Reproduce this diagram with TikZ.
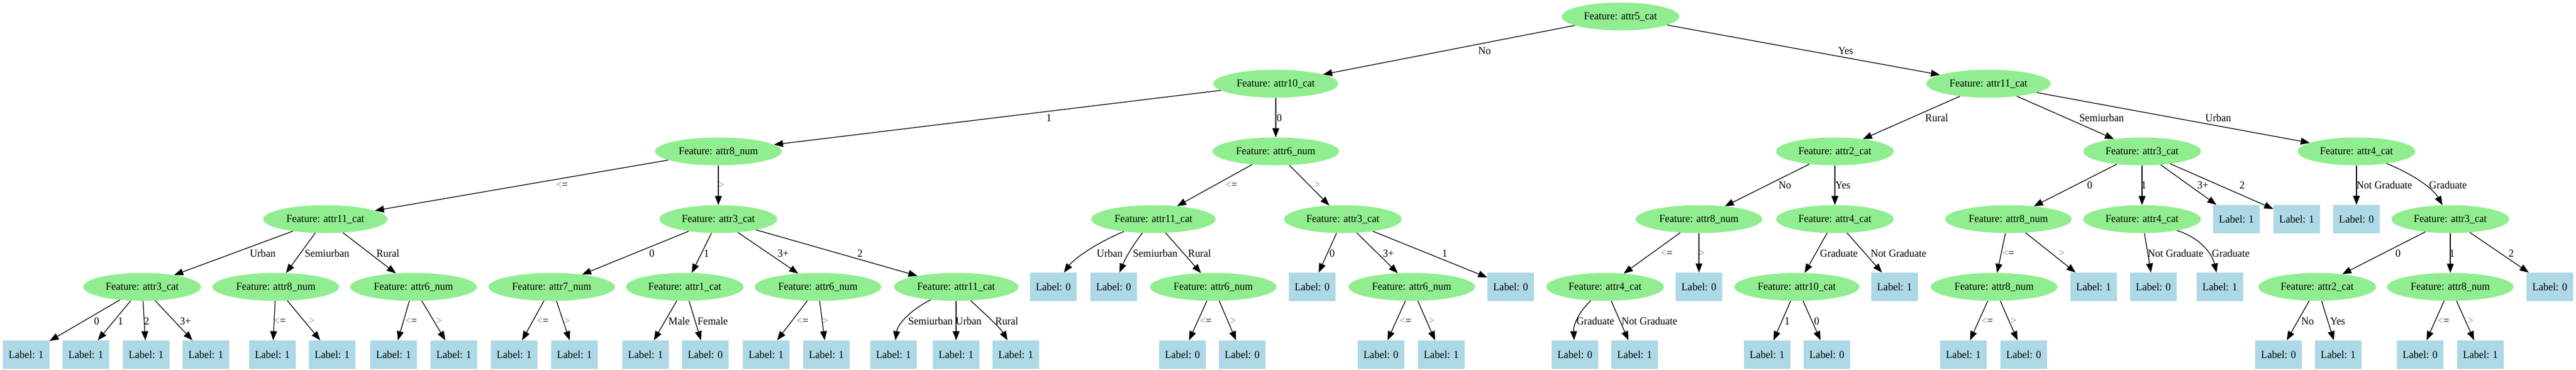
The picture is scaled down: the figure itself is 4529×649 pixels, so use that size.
\documentclass[tikz,border=0pt]{standalone}
\usepackage{fontspec}
\setmainfont{Liberation Serif}[FakeStretch=0.95]
\usetikzlibrary{shapes.geometric,arrows.meta}
\definecolor{featgreen}{HTML}{90EE90}
\definecolor{leafblue}{HTML}{ADD8E6}
\newcommand\fs{\fontsize{19}{22}\selectfont}
\newcommand\lsym{\textcolor{black!50}{<}=}
\newcommand\gsym{\textcolor{black!50}{>}}
\newcommand\edg[5]{\draw[edge] (#1) -- (#2); \node[elab] (l#2) at (#3,#4) {#5};}
\newcommand\edgc[7]{\draw[edge] (#1) .. controls (#3) and (#4) .. (#2); \node[elab] (l#2) at (#5,#6) {#7};}
\tikzset{
  feat/.style={ellipse, fill=featgreen, inner xsep=9pt, inner ysep=0pt, minimum height=49pt, font=\fs},
  leaf/.style={rectangle, fill=leafblue, minimum width=82pt, minimum height=50pt, inner sep=0pt, font=\fs},
  edge/.style={line width=1.3pt, -{Triangle[length=16pt,width=12pt]}},
  elab/.style={font=\fs, inner sep=0pt}
}
\begin{document}
\begin{tikzpicture}[x=1pt,y=-1pt]
\fill[white] (0,0) rectangle (4529,649);
\useasboundingbox (0,0) rectangle (4529,649);
% level 0
\node[feat] (r) at (2849,29) {Feature: attr5\_cat};
% level 1
\node[feat] (A) at (2243,147) {Feature: attr10\_cat};
\node[feat] (B) at (3496,147) {Feature: attr11\_cat};
% level 2
\node[feat] (AA) at (1263,266) {Feature: attr8\_num};
\node[feat] (AB) at (2243,266) {Feature: attr6\_num};
\node[feat] (BA) at (3226,266) {Feature: attr2\_cat};
\node[feat] (BB) at (3766,266) {Feature: attr3\_cat};
\node[feat] (BC) at (4143,266) {Feature: attr4\_cat};
% level 3
\node[feat] (AAA) at (572,385) {Feature: attr11\_cat};
\node[feat] (AAB) at (1263,385) {Feature: attr3\_cat};
\node[feat] (ABA) at (2028,385) {Feature: attr11\_cat};
\node[feat] (ABB) at (2361,385) {Feature: attr3\_cat};
\node[feat] (BAA) at (2987,385) {Feature: attr8\_num};
\node[feat] (BAB) at (3226,385) {Feature: attr4\_cat};
\node[feat] (BBA) at (3531,385) {Feature: attr8\_num};
\node[feat] (BBB) at (3766,385) {Feature: attr4\_cat};
\node[leaf] (BBC) at (3932,385) {Label: 1};
\node[leaf] (BBD) at (4038,385) {Label: 1};
\node[leaf] (BCA) at (4143,385) {Label: 0};
\node[feat] (BCB) at (4308,385) {Feature: attr3\_cat};
% level 4
\node[feat] (AAAA) at (250,504) {Feature: attr3\_cat};
\node[feat] (AAAB) at (485,504) {Feature: attr8\_num};
\node[feat] (AAAC) at (727,504) {Feature: attr6\_num};
\node[feat] (AABA) at (970,504) {Feature: attr7\_num};
\node[feat] (AABB) at (1204,504) {Feature: attr1\_cat};
\node[feat] (AABC) at (1438,504) {Feature: attr6\_num};
\node[feat] (AABD) at (1681,504) {Feature: attr11\_cat};
\node[leaf] (ABAA) at (1852,504) {Label: 0};
\node[leaf] (ABAB) at (1958,504) {Label: 0};
\node[feat] (ABAC) at (2133,504) {Feature: attr6\_num};
\node[leaf] (ABBA) at (2307,504) {Label: 0};
\node[feat] (ABBB) at (2482,504) {Feature: attr6\_num};
\node[leaf] (ABBC) at (2656,504) {Label: 0};
\node[feat] (BAAA) at (2822,504) {Feature: attr4\_cat};
\node[leaf] (BAAB) at (2987,504) {Label: 0};
\node[feat] (BABA) at (3159,504) {Feature: attr10\_cat};
\node[leaf] (BABB) at (3331,504) {Label: 1};
\node[feat] (BBAA) at (3506,504) {Feature: attr8\_num};
\node[leaf] (BBAB) at (3681,504) {Label: 1};
\node[leaf] (BBBA) at (3786,504) {Label: 0};
\node[leaf] (BBBB) at (3903,504) {Label: 1};
\node[feat] (BCBA) at (4074,504) {Feature: attr2\_cat};
\node[feat] (BCBB) at (4308,504) {Feature: attr8\_num};
\node[leaf] (BCBC) at (4483,504) {Label: 0};
% level 5
\node[leaf] (AAAA1) at (46,623) {Label: 1};
\node[leaf] (AAAA2) at (151,623) {Label: 1};
\node[leaf] (AAAA3) at (257,623) {Label: 1};
\node[leaf] (AAAA4) at (362,623) {Label: 1};
\node[leaf] (AAAB1) at (479,623) {Label: 1};
\node[leaf] (AAAB2) at (584,623) {Label: 1};
\node[leaf] (AAAC1) at (692,623) {Label: 1};
\node[leaf] (AAAC2) at (798,623) {Label: 1};
\node[leaf] (AABA1) at (904,623) {Label: 1};
\node[leaf] (AABA2) at (1010,623) {Label: 1};
\node[leaf] (AABB1) at (1135,623) {Label: 1};
\node[leaf] (AABB2) at (1240,623) {Label: 0};
\node[leaf] (AABC1) at (1347,623) {Label: 1};
\node[leaf] (AABC2) at (1453,623) {Label: 1};
\node[leaf] (AABD1) at (1571,623) {Label: 1};
\node[leaf] (AABD2) at (1681,623) {Label: 1};
\node[leaf] (AABD3) at (1786,623) {Label: 1};
\node[leaf] (ABAC1) at (2079,623) {Label: 0};
\node[leaf] (ABAC2) at (2184,623) {Label: 0};
\node[leaf] (ABBB1) at (2428,623) {Label: 0};
\node[leaf] (ABBB2) at (2534,623) {Label: 1};
\node[leaf] (BAAA1) at (2769,623) {Label: 0};
\node[leaf] (BAAA2) at (2874,623) {Label: 1};
\node[leaf] (BABA1) at (3107,623) {Label: 1};
\node[leaf] (BABA2) at (3212,623) {Label: 0};
\node[leaf] (BBAA1) at (3452,623) {Label: 1};
\node[leaf] (BBAA2) at (3558,623) {Label: 0};
\node[leaf] (BCBA1) at (4006,623) {Label: 0};
\node[leaf] (BCBA2) at (4111,623) {Label: 1};
\node[leaf] (BCBB1) at (4255,623) {Label: 0};
\node[leaf] (BCBB2) at (4361,623) {Label: 1};
% edges level 0-1
\edg{r}{A}{2610}{89}{No}
\edg{r}{B}{3245}{89}{Yes}
% edges level 1-2
\edg{A}{AA}{1844}{207}{1}
\edg{A}{AB}{2249}{207}{0}
\edg{B}{BA}{3405}{207}{Rural}
\edg{B}{BB}{3695}{207}{Semiurban}
\edg{B}{BC}{3900}{207}{Urban}
% edges level 2-3
\edg{AA}{AAA}{988}{325}{\lsym}
\edg{AA}{AAB}{1268}{325}{\gsym}
\edg{AB}{ABA}{2165}{325}{\lsym}
\edg{AB}{ABB}{2316}{325}{\gsym}
\edg{BA}{BAA}{3138}{325}{No}
\edg{BA}{BAB}{3240}{325}{Yes}
\edg{BB}{BBA}{3674}{325}{0}
\edg{BB}{BBB}{3769}{325}{1}
\edg{BB}{BBC}{3873}{325}{3+}
\edg{BB}{BBD}{3942}{325}{2}
\edg{BC}{BCA}{4192}{325}{Not Graduate}
\edgc{BC}{BCB}{4240,305}{4277,330}{4304}{325}{Graduate}
% edges level 3-4
\edg{AAA}{AAAA}{462}{445}{Urban}
\edg{AAA}{AAAB}{575}{445}{Semiurban}
\edg{AAA}{AAAC}{682}{445}{Rural}
\edg{AAB}{AABA}{1146}{445}{0}
\edg{AAB}{AABB}{1242}{445}{1}
\edg{AAB}{AABC}{1377}{445}{3+}
\edg{AAB}{AABD}{1512}{445}{2}
\edgc{ABA}{ABAA}{1925,428}{1888,455}{1951}{445}{Urban}
\edgc{ABA}{ABAB}{1996,425}{1980,450}{2031}{445}{Semiurban}
\edg{ABA}{ABAC}{2109}{445}{Rural}
\edg{ABB}{ABBA}{2342}{445}{0}
\edg{ABB}{ABBB}{2441}{445}{3+}
\edg{ABB}{ABBC}{2540}{445}{1}
\edg{BAA}{BAAA}{2930}{445}{\lsym}
\edg{BAA}{BAAB}{2992}{445}{\gsym}
\edg{BAB}{BABA}{3233}{445}{Graduate}
\edg{BAB}{BABB}{3338}{445}{Not Graduate}
\edg{BBA}{BBAA}{3531}{445}{\lsym}
\edg{BBA}{BBAB}{3625}{445}{\gsym}
\edg{BBB}{BBBA}{3825}{445}{Not Graduate}
\edgc{BBB}{BBBB}{3868,418}{3889,445}{3922}{445}{Graduate}
\edg{BCB}{BCBA}{4216}{445}{0}
\edg{BCB}{BCBB}{4311}{445}{1}
\edg{BCB}{BCBC}{4415}{445}{2}
% edges level 4-5
\edg{AAAA}{AAAA1}{170}{564}{0}
\edg{AAAA}{AAAA2}{212}{564}{1}
\edg{AAAA}{AAAA3}{258}{564}{2}
\edg{AAAA}{AAAA4}{326}{564}{3+}
\edg{AAAB}{AAAB1}{492}{564}{\lsym}
\edg{AAAB}{AAAB2}{548}{564}{\gsym}
\edg{AAAC}{AAAC1}{723}{564}{\lsym}
\edg{AAAC}{AAAC2}{772}{564}{\gsym}
\edg{AABA}{AABA1}{954}{564}{\lsym}
\edg{AABA}{AABA2}{997}{564}{\gsym}
\edg{AABB}{AABB1}{1194}{564}{Male}
\edg{AABB}{AABB2}{1253}{564}{Female}
\edg{AABC}{AABC1}{1411}{564}{\lsym}
\edg{AABC}{AABC2}{1451}{564}{\gsym}
\edgc{AABD}{AABD1}{1600,545}{1578,570}{1636}{564}{Semiurban}
\edg{AABD}{AABD2}{1703}{564}{Urban}
\edgc{AABD}{AABD3}{1730,550}{1758,575}{1770}{564}{Rural}
\edg{ABAC}{ABAC1}{2120}{564}{\lsym}
\edg{ABAC}{ABAC2}{2168}{564}{\gsym}
\edg{ABBB}{ABBB1}{2471}{564}{\lsym}
\edg{ABBB}{ABBB2}{2517}{564}{\gsym}
\edgc{BAAA}{BAAA1}{2776,548}{2766,570}{2805}{564}{Graduate}
\edg{BAAA}{BAAA2}{2900}{564}{Not Graduate}
\edg{BABA}{BABA1}{3142}{564}{1}
\edg{BABA}{BABA2}{3194}{564}{0}
\edg{BBAA}{BBAA1}{3494}{564}{\lsym}
\edg{BBAA}{BBAA2}{3540}{564}{\gsym}
\edg{BCBA}{BCBA1}{4057}{564}{No}
\edg{BCBA}{BCBA2}{4110}{564}{Yes}
\edg{BCBB}{BCBB1}{4296}{564}{\lsym}
\edg{BCBB}{BCBB2}{4344}{564}{\gsym}
\end{tikzpicture}
\end{document}
